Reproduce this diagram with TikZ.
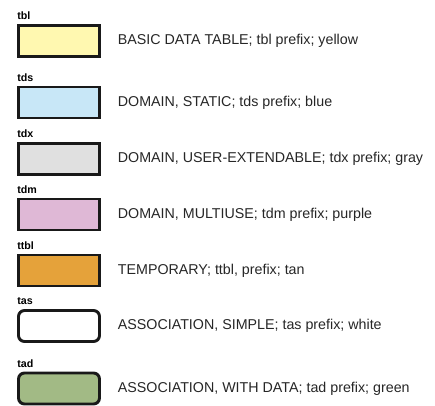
\documentclass[tikz,border=0pt]{standalone}
\usepackage{fontspec}
\setmainfont{Liberation Sans}
\usetikzlibrary{calc,positioning}

\definecolor{tblyellow}{HTML}{FFF8B0}
\definecolor{tdsblue}{HTML}{C8E7F7}
\definecolor{tdxgray}{HTML}{E0E0E0}
\definecolor{tdmpurple}{HTML}{DFB8D6}
\definecolor{ttbltan}{HTML}{E5A23A}
\definecolor{tadgreen}{HTML}{A2BA85}

\tikzset{
	tablebox/.style={draw=black!90, line width=2.2pt, minimum width=60.75pt, minimum height=23.25pt, inner sep=0pt},
	assocbox/.style={tablebox, rounded corners=4.5pt},
	tag/.style={anchor=base west, inner sep=0pt, font=\fontsize{8}{9}\selectfont\bfseries},
	desc/.style={anchor=west, inner sep=0pt, font=\fontsize{10.7}{12}\selectfont, text=black!85}
}

\begin{document}
\begin{tikzpicture}[x=0.75pt, y=-0.75pt]
		%%%%% START %%%%%
		\useasboundingbox (0, 0) rectangle (435, 406);
		
		\node[tablebox, fill=tblyellow] (tbl) at (59, 41) {};
		\node[tag] (tbl-tag) at ($(tbl.north west)+(0,-4.5)$) {tbl};
		\node[desc, right=12.5pt of tbl] (tbl-desc) {BASIC DATA TABLE; tbl prefix; yellow};
		
		\node[tablebox, fill=tdsblue] (tds) at (59, 102.5) {};
		\node[tag] (tds-tag) at ($(tds.north west)+(0,-4.5)$) {tds};
		\node[desc, right=12.5pt of tds] (tds-desc) {DOMAIN, STATIC; tds prefix; blue};
		
		\node[tablebox, fill=tdxgray] (tdx) at (59, 159) {};
		\node[tag] (tdx-tag) at ($(tdx.north west)+(0,-4.5)$) {tdx};
		\node[desc, right=12.5pt of tdx] (tdx-desc) {DOMAIN, USER-EXTENDABLE; tdx prefix; gray};
		
		\node[tablebox, fill=tdmpurple] (tdm) at (59, 214.5) {};
		\node[tag] (tdm-tag) at ($(tdm.north west)+(0,-4.5)$) {tdm};
		\node[desc, right=12.5pt of tdm] (tdm-desc) {DOMAIN, MULTIUSE; tdm prefix; purple};
		
		\node[tablebox, fill=ttbltan] (ttbl) at (59, 270.5) {};
		\node[tag] (ttbl-tag) at ($(ttbl.north west)+(0,-4.5)$) {ttbl};
		\node[desc, right=12.5pt of ttbl] (ttbl-desc) {TEMPORARY; ttbl, prefix; tan};
		
		\node[assocbox, fill=white] (tas) at (59, 326) {};
		\node[tag] (tas-tag) at ($(tas.north west)+(0,-4.5)$) {tas};
		\node[desc, right=12.5pt of tas] (tas-desc) {ASSOCIATION, SIMPLE; tas prefix; white};
		
		\node[assocbox, fill=tadgreen] (tad) at (59, 388.5) {};
		\node[tag] (tad-tag) at ($(tad.north west)+(0,-4.5)$) {tad};
		\node[desc, right=12.5pt of tad] (tad-desc) {ASSOCIATION, WITH DATA; tad prefix; green};
		
		%%%%% END %%%%%
	\end{tikzpicture}
\end{document}
